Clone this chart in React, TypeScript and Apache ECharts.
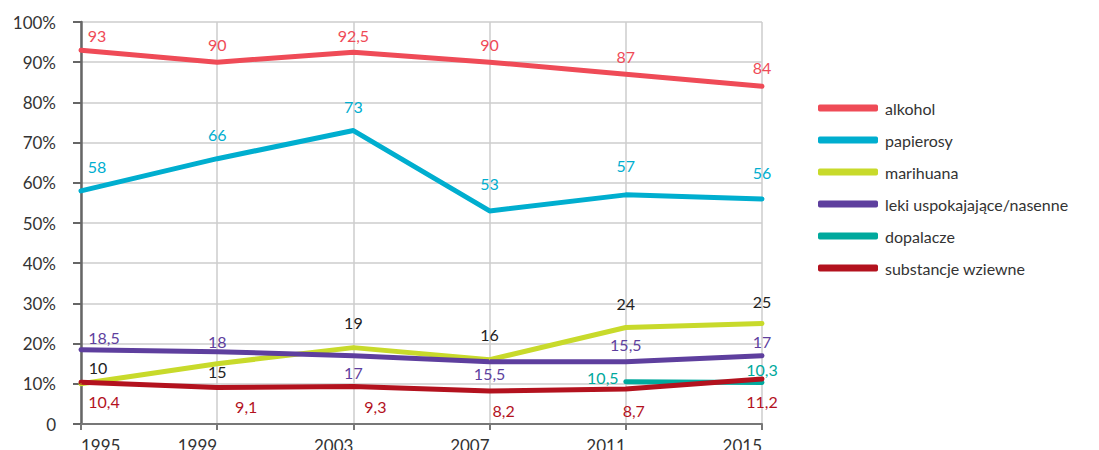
import React, { useEffect, useRef } from "react";
import * as echarts from "echarts";

const years = ["1995", "1999", "2003", "2007", "2011", "2015"];
const alkohol = [93, 90, 92.5, 90, 87, 84];
const papierosy = [58, 66, 73, 53, 57, 56];
const marihuana = [10, 15, 19, 16, 24, 25];
const leki = [18.5, 18, 17, 15.5, 15.5, 17];
const dopalacze = [null, null, null, null, 10.5, 10.3];
const wziewne = [10.4, 9.1, 9.3, 8.2, 8.7, 11.2];

// label offsets [dx, dy] from the point to the label centre
const alkoholOff = [[16, -15], [0, -18], [0, -17], [0, -18], [0, -18], [0, -19]];
const papierosyOff = [[16, -24], [0, -24], [0, -24], [0, -27], [0, -29], [0, -26]];
const marihuanaOff = [[17, -16], [0, 8], [0, -25], [0, -25], [0, -24], [0, -22]];
const lekiOff = [[23, -12], [0, -10], [0, 17], [0, 12], [0, -17], [0, -14]];
const dopalaczeOff = [[0, 0], [0, 0], [0, 0], [0, 0], [-23, -4], [0, -13]];
const wziewneOff = [[23, 19], [29, 19], [22, 20], [14, 19], [8, 21], [0, 23]];

const FONT = "Lato, 'Noto Sans', sans-serif";

function fmt(v: number) {
  return String(v).replace(".", ",");
}

function mkSeries(name: string, data: (number | null)[], offs: number[][], color: string, labelColor: string) {
  return {
    name,
    type: "line",
    symbol: "circle",
    symbolSize: 1,
    showSymbol: true,
    lineStyle: { color, width: 5, cap: "round", join: "round" },
    itemStyle: { color },
    emphasis: { disabled: true },
    data: data.map((v, i) =>
      v === null
        ? null
        : {
            value: v,
            label: {
              show: true,
              position: "inside",
              offset: offs[i],
              color: labelColor,
              fontSize: 16,
              fontFamily: FONT,
              formatter: () => fmt(v),
            },
          }
    ),
  };
}

export default function App() {
  const ref = useRef<HTMLDivElement>(null);
  useEffect(() => {
    const chart = echarts.init(ref.current!, null, { renderer: "svg" });
    chart.setOption({
      animation: false,
      backgroundColor: "#ffffff",
      textStyle: { fontFamily: FONT },
      grid: { left: 81, right: 337, top: 22, bottom: 26, containLabel: false, outerBoundsMode: "none" },
      legend: {
        orient: "vertical",
        left: 813,
        top: 95,
        icon: "roundRect",
        itemWidth: 60,
        itemHeight: 7,
        itemGap: 16,
        textStyle: { fontSize: 16, color: "#333", fontFamily: FONT, padding: [0, 0, 0, 2] },
        data: ["alkohol", "papierosy", "marihuana", "leki uspokajające/nasenne", "dopalacze", "substancje wziewne"],
      },
      xAxis: {
        type: "category",
        data: years,
        boundaryGap: false,
        axisLine: { lineStyle: { color: "#777", width: 2 } },
        axisTick: { show: true, length: 6, lineStyle: { color: "#777", width: 2 } },
        axisLabel: {
          color: "#333",
          fontSize: 17,
          margin: 13,
          fontFamily: FONT,
          align: "right",
          alignMinLabel: "left",
          alignMaxLabel: "right",
        },
        splitLine: { show: true, lineStyle: { color: "#cccccc", width: 1.5 } },
      },
      yAxis: {
        type: "value",
        min: 0,
        max: 100,
        interval: 10,
        axisLine: { show: true, lineStyle: { color: "#666", width: 2.5 } },
        axisTick: { show: true, length: 8, lineStyle: { color: "#666", width: 2 } },
        axisLabel: {
          color: "#333",
          fontSize: 17,
          margin: 25,
          fontFamily: FONT,
          formatter: (v: number) => (v === 0 ? "0" : v + "%"),
        },
        splitLine: { show: true, lineStyle: { color: "#cccccc", width: 1.5 } },
      },
      series: [
        mkSeries("alkohol", alkohol, alkoholOff, "#EF4B57", "#EF4B57"),
        mkSeries("papierosy", papierosy, papierosyOff, "#00AECF", "#00AECF"),
        mkSeries("marihuana", marihuana, marihuanaOff, "#C8DA2B", "#222222"),
        mkSeries("leki uspokajające/nasenne", leki, lekiOff, "#5E3F9E", "#5E3F9E"),
        mkSeries("dopalacze", dopalacze, dopalaczeOff, "#00A99D", "#00A99D"),
        mkSeries("substancje wziewne", wziewne, wziewneOff, "#B3121E", "#B3121E"),
      ],
    });
    return () => chart.dispose();
  }, []);
  return <div ref={ref} style={{ width: 1099, height: 450, position: "absolute", left: 0, top: 0 }} />;
}
